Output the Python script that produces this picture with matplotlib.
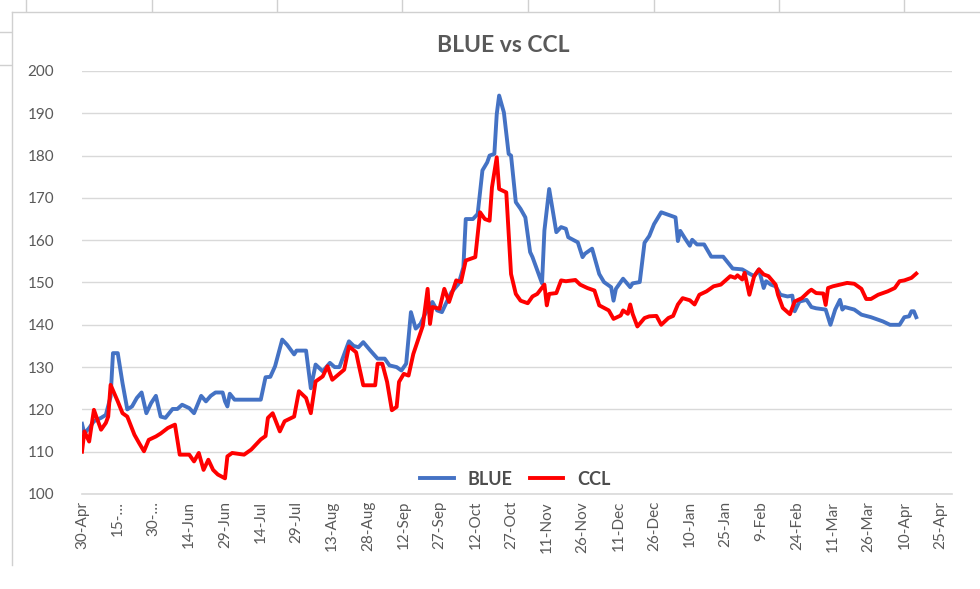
import pandas as pd
import matplotlib
matplotlib.use("Agg")
import matplotlib.pyplot as plt
from matplotlib.lines import Line2D

plt.rcParams['font.family'] = ['Lato', 'DejaVu Sans']

START = pd.Timestamp("2020-04-30")

# BLUE quote (days after 30-Apr-2020, value)
blue_days = [0, 1, 3, 5, 8, 10, 12, 13, 15, 17, 19, 21, 23, 25, 27, 29, 31, 33, 35, 38,
             40, 42, 45, 47, 50, 52, 54, 56, 59, 60, 61, 62, 64, 75, 77, 79, 81, 84, 86, 89,
             90, 94, 96, 98, 101, 104, 106, 108, 112, 114, 116, 118, 121, 124, 127, 129, 132, 134, 136, 138,
             140, 142, 144, 147, 149, 151, 153, 155, 158, 160, 161, 164, 166, 168, 170, 171, 173, 174, 175, 177,
             179, 180, 182, 184, 186, 188, 189, 193, 194, 196, 199, 201, 203, 204, 208, 210, 211, 214, 217, 219,
             222, 223, 224, 227, 230, 231, 234, 236, 238, 240, 243, 246, 249, 250, 251, 253, 255, 256, 258, 261,
             264, 269, 273, 277, 280, 282, 284, 286, 287, 289, 291, 293, 296, 298, 299, 301, 304, 306, 308, 312,
             314, 316, 318, 319, 320, 324, 327, 331, 336, 339, 343, 345, 347, 348, 349, 350]
blue_vals = [116.6, 114.3, 115.6, 117.2, 118.0, 118.7, 123.0, 133.3, 133.3, 126.2, 120.0, 120.7, 122.7, 124.0, 119.1, 121.5, 123.2, 118.3, 118.0, 120.1,
             120.1, 121.1, 120.3, 119.1, 123.2, 121.9, 123.2, 124.0, 124.0, 121.9, 120.7, 123.7, 122.3, 122.3, 127.6, 127.7, 130.2, 136.5, 135.3, 133.0,
             133.9, 133.9, 125.0, 130.6, 129.0, 131.0, 130.0, 130.0, 136.1, 135.0, 134.7, 135.9, 133.9, 132.0, 132.0, 130.4, 130.0, 129.2, 130.8, 143.0,
             139.1, 140.2, 142.6, 145.4, 143.4, 143.0, 145.4, 147.7, 149.7, 153.6, 165.0, 165.0, 166.2, 176.5, 178.4, 180.0, 180.4, 189.8, 194.2, 190.2,
             180.4, 180.0, 169.0, 167.4, 165.4, 157.2, 156.0, 149.8, 162.3, 172.1, 161.9, 163.1, 162.7, 160.7, 159.5, 156.0, 156.8, 158.0, 152.0, 150.1,
             148.9, 145.7, 148.5, 150.9, 148.9, 149.8, 150.1, 159.4, 161.0, 163.8, 166.6, 166.0, 165.4, 159.8, 162.2, 160.4, 158.7, 160.1, 159.0, 159.0,
             156.1, 156.1, 153.3, 153.1, 152.1, 151.5, 153.1, 148.7, 150.3, 149.5, 149.1, 147.1, 146.7, 146.9, 143.2, 145.5, 145.9, 144.2, 143.9, 143.6,
             140.0, 143.6, 145.9, 143.6, 144.2, 143.6, 142.4, 141.8, 140.8, 140.0, 140.0, 141.8, 142.0, 143.2, 143.2, 141.8]

# CCL quote
ccl_days = [0, 1, 2, 3, 5, 6, 8, 10, 11, 12, 15, 17, 19, 22, 24, 26, 28, 31, 33, 36,
            39, 41, 45, 47, 49, 51, 53, 55, 57, 59, 60, 61, 63, 68, 71, 75, 77, 78, 80, 83,
            85, 89, 91, 94, 96, 98, 101, 103, 105, 110, 112, 115, 116, 118, 123, 124, 126, 128, 130, 132,
            133, 135, 137, 139, 143, 145, 146, 147, 150, 152, 154, 157, 159, 161, 165, 167, 169, 171, 172, 174,
            175, 178, 180, 182, 184, 187, 189, 191, 194, 195, 196, 199, 201, 203, 207, 209, 212, 215, 217, 221,
            223, 226, 227, 229, 230, 231, 233, 236, 238, 241, 243, 246, 248, 250, 252, 255, 257, 259, 262, 265,
            268, 272, 274, 275, 277, 278, 280, 282, 284, 286, 288, 291, 292, 294, 297, 299, 302, 305, 306, 308,
            311, 312, 313, 315, 318, 321, 324, 327, 329, 331, 334, 338, 341, 343, 345, 348, 350]
ccl_vals = [110.0, 114.8, 113.6, 112.4, 119.9, 118.3, 115.2, 116.8, 118.3, 125.8, 121.9, 119.1, 118.3, 114.0, 112.0, 110.1, 112.8, 113.6, 114.3, 115.6,
            116.4, 109.3, 109.3, 107.7, 109.7, 105.7, 108.1, 105.7, 104.6, 104.0, 103.7, 108.9, 109.7, 109.3, 110.5, 112.9, 113.7, 118.0, 119.1, 114.8,
            117.2, 118.3, 124.3, 122.7, 119.1, 126.6, 127.8, 130.2, 127.0, 129.4, 134.9, 133.5, 130.8, 125.7, 125.7, 130.8, 130.8, 126.5, 119.8, 120.6,
            126.5, 128.4, 128.0, 133.1, 139.8, 148.5, 140.2, 144.2, 143.8, 148.5, 145.4, 150.5, 150.1, 155.2, 156.0, 166.6, 165.0, 164.6, 172.5, 179.6,
            172.1, 171.3, 152.0, 147.3, 145.7, 145.1, 146.7, 147.3, 149.5, 144.6, 147.3, 147.5, 150.5, 150.3, 150.6, 149.5, 148.7, 148.1, 144.6, 143.4,
            141.4, 142.2, 143.4, 142.6, 144.8, 142.6, 139.6, 141.6, 142.0, 142.1, 140.0, 141.6, 142.1, 144.8, 146.3, 145.8, 144.8, 147.1, 147.9, 149.1,
            149.5, 151.5, 151.1, 151.7, 150.7, 152.3, 147.1, 151.5, 153.1, 151.9, 151.5, 149.5, 147.1, 144.0, 142.5, 145.5, 146.3, 147.9, 148.3, 147.5,
            147.4, 144.7, 148.7, 149.1, 149.5, 149.9, 149.7, 148.5, 146.1, 146.1, 147.1, 147.9, 148.7, 150.3, 150.5, 151.1, 152.1]

tick_labels = ["30-Apr", "15-\u2026", "30-\u2026", "14-Jun", "29-Jun", "14-Jul", "29-Jul", "13-Aug", "28-Aug",
               "12-Sep", "27-Sep", "12-Oct", "27-Oct", "11-Nov", "26-Nov", "11-Dec", "26-Dec", "10-Jan",
               "25-Jan", "9-Feb", "24-Feb", "11-Mar", "26-Mar", "10-Apr", "25-Apr"]

blue_dates = START + pd.to_timedelta(blue_days, unit="D")
ccl_dates = START + pd.to_timedelta(ccl_days, unit="D")
tick_dates = START + pd.to_timedelta([15 * i for i in range(len(tick_labels))], unit="D")

W, H = 980, 589
fig = plt.figure(figsize=(W / 100, H / 100), dpi=100)
ax = fig.add_axes([82 / W, 1 - 494 / H, (952 - 82) / W, (494 - 71) / H])

txt = '#595959'
grid = '#d9d9d9'

ax.plot(blue_dates, blue_vals, color='#4472C4', lw=2.8, label='BLUE', solid_joinstyle='round')
ax.plot(ccl_dates, ccl_vals, color='#FF0000', lw=2.8, label='CCL', solid_joinstyle='round')

ax.set_ylim(100, 200)
ax.set_yticks(range(100, 201, 10))
ax.set_xlim(START, START + pd.Timedelta(days=365))
ax.set_xticks(tick_dates)
ax.set_xticklabels(tick_labels, rotation=90, va='top', ha='center')

ax.grid(axis='y', color=grid, lw=1)
ax.set_axisbelow(True)
for s in ['top', 'right', 'left']:
    ax.spines[s].set_visible(False)
ax.spines['bottom'].set_color(grid)
ax.spines['bottom'].set_linewidth(1.2)
ax.tick_params(axis='both', length=0, colors=txt, labelsize=11)
ax.tick_params(axis='y', pad=20)
ax.tick_params(axis='x', pad=5)

fig.text(503 / W, 1 - 45 / H, 'BLUE vs CCL', ha='center', va='center',
         fontsize=16.5, fontweight='bold', color=txt)

leg = ax.legend(loc='center', bbox_to_anchor=(0.498, 0.035), ncol=2, frameon=False,
                handlelength=1.85, handletextpad=0.75, columnspacing=1.0,
                prop={'weight': 'bold', 'size': 13})
for t in leg.get_texts():
    t.set_color('#4d4d4d')

# chart area border and sheet gridline stubs
def px_line(x0, y0, x1, y1, c='#d0d0d0', lw=1):
    fig.add_artist(Line2D([x0 / W, x1 / W], [1 - y0 / H, 1 - y1 / H], color=c, lw=lw))

px_line(12, 12, W, 12)
px_line(12, 12, 12, 565)
for x in [26, 152, 277, 402, 528, 654, 779, 904]:
    px_line(x, 0, x, 11)
for y in [32, 65]:
    px_line(0, y, 11, y)

fig.savefig('out.png', dpi=100)
